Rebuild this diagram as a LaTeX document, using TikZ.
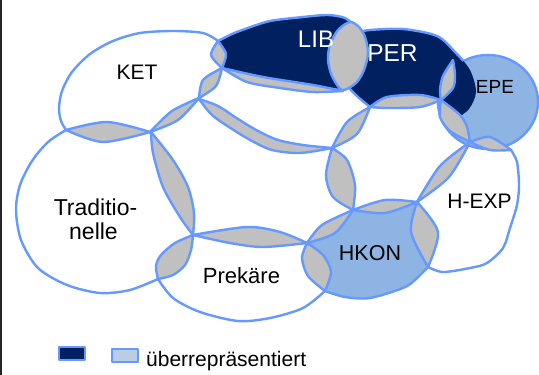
\documentclass[tikz,border=0pt]{standalone}
\usepackage{fontspec}
\newfontfamily\lab{Liberation Sans}
\definecolor{bl}{RGB}{102,153,255}
\definecolor{navy}{RGB}{0,32,96}
\definecolor{lfill}{RGB}{142,180,227}
\definecolor{lgray}{RGB}{192,192,192}
\definecolor{leglight}{RGB}{185,205,229}
\begin{document}
\begin{tikzpicture}[x=1pt,y=-1pt, line join=round,
  bigw/.style={fill=white, draw=bl, line width=2.4pt},
  bigl/.style={fill=lfill, draw=bl, line width=2.4pt},
  bign/.style={fill=navy, draw=bl, line width=2.4pt},
  lensst/.style={fill=lgray, draw=bl, line width=2.4pt},
  lab/.style={inner sep=0pt, anchor=base, text=black},
  legbox/.style={draw=bl, line width=2pt, inner sep=0pt, minimum width=26pt, minimum height=13pt},
]
\useasboundingbox (0,0) rectangle (539,375);
\fill[white] (0,0) rectangle (539,375);
\draw[line width=1.6pt, black!85] (0.8,0) -- (0.8,375);

% Traditionelle
\filldraw[bigw] plot[smooth] coordinates {(66,130) (107,131) (150,132)}
 -- plot[smooth] coordinates {(150,132) (161,155) (175,187) (187,215) (193,235)}
 -- plot[smooth] coordinates {(193,235) (172,258) (158,279)}
 -- plot[smooth] coordinates {(158,279) (130,290) (100,293) (67,285) (38,268) (21,240) (16,210) (20,185) (32,161) (48,142) (66,130)} -- cycle;
% KET
\filldraw[bigw] plot[smooth] coordinates {(66,130) (61,121) (59,108) (62,91) (72,72) (90,54) (113,41) (140,33) (173,31) (203,33) (218,41)}
 -- plot[smooth] coordinates {(218,41) (218.5,55) (222,68)}
 -- plot[smooth] coordinates {(222,68) (209,83) (199,98)}
 -- plot[smooth] coordinates {(199,98) (175,116) (150,132)}
 -- plot[smooth] coordinates {(150,132) (106,132) (66,130)} -- cycle;
% Prekaere
\filldraw[bigw] plot[smooth] coordinates {(193,235) (250,237) (307,243)}
 -- plot[smooth] coordinates {(307,243) (316,265) (325,291)}
 -- plot[smooth] coordinates {(325,291) (303,308) (270,318) (238,321) (200,312) (173,298) (158,279)}
 -- plot[smooth] coordinates {(158,279) (172,258) (193,235)} -- cycle;
% H-EXP
\filldraw[bigw] plot[smooth] coordinates {(417,202) (444,171) (470,142)}
 -- plot[smooth] coordinates {(470,142) (490,143.5) (511,150)}
 -- plot[smooth] coordinates {(511,150) (517,162) (519,185) (517,205) (510,228) (503,248) (487,263) (470,268) (443,272) (428,267)}
 -- plot[smooth] coordinates {(428,267) (425,232) (417,202)} -- cycle;
% HKON
\filldraw[bigl] plot[smooth] coordinates {(307,243) (329,229) (353,210)}
 -- plot[smooth] coordinates {(353,210) (385,207) (417,202)}
 -- plot[smooth] coordinates {(417,202) (425,232) (428,267)}
 -- plot[smooth] coordinates {(428,267) (415,280) (403,288) (370,298) (345,297) (325,291)}
 -- plot[smooth] coordinates {(325,291) (316,265) (307,243)} -- cycle;
% EPE
\filldraw[bigl] (488,102) ellipse [x radius=50pt, y radius=47pt];
% LIB
\filldraw[bign] plot[smooth] coordinates {(218,41) (232,34) (245,29) (270,21) (303,17) (328,15) (345,18) (355,26)}
 -- plot[smooth] coordinates {(355,26) (357,55) (343,90)}
 -- plot[smooth] coordinates {(343,90) (313,88.5) (280,84) (247,77) (222,68)}
 -- plot[smooth] coordinates {(222,68) (218.5,55) (218,41)} -- cycle;
% PER fill
\fill[navy] plot[smooth] coordinates {(352,33) (370,30) (403,29) (437,36) (455,52) (470,70) (476,92) (469,109) (456,119)}
 -- plot[smooth] coordinates {(456,119) (447,109) (441,100)}
 -- plot[smooth] coordinates {(441,100) (420,101) (387,102) (370,107)}
 -- plot[smooth] coordinates {(370,107) (358,97) (349,88)}
 -- plot[smooth] coordinates {(349,88) (337,70) (336,45) (352,33)} -- cycle;
% PER outline outside EPE
\begin{scope}[even odd rule]
\clip (-5,-5) rectangle (545,380) (488,102) ellipse [x radius=50pt, y radius=47pt];
\draw[draw=bl, line width=2.4pt] plot[smooth] coordinates {(352,33) (370,30) (403,29) (437,36) (455,52) (470,70) (476,92) (469,109) (456,119)}
 -- plot[smooth] coordinates {(456,119) (447,109) (441,100)}
 -- plot[smooth] coordinates {(441,100) (420,101) (387,102) (370,107)}
 -- plot[smooth] coordinates {(370,107) (358,97) (349,88)}
 -- plot[smooth] coordinates {(349,88) (337,70) (336,45) (352,33)} -- cycle;
\end{scope}

% lenses
\filldraw[lensst] plot[smooth] coordinates {(66,130) (107,122) (150,132)} -- plot[smooth] coordinates {(150,132) (103,142) (66,130)} -- cycle;
\filldraw[lensst] plot[smooth] coordinates {(151,132) (153,153) (163,187) (180,217) (193,235)} -- plot[smooth] coordinates {(193,235) (194,213) (188,187) (173,160) (151,132)} -- cycle;
\filldraw[lensst] plot[smooth] coordinates {(150,132) (172,111) (199,98)} -- plot[smooth] coordinates {(199,98) (178,120) (150,132)} -- cycle;
\filldraw[lensst] plot[smooth] coordinates {(199,98) (203,80) (222,68)} -- plot[smooth] coordinates {(222,68) (216,86) (199,98)} -- cycle;
\filldraw[lensst] plot[smooth] coordinates {(218,41) (211,55) (222,68)} -- plot[smooth] coordinates {(222,68) (226,54) (218,41)} -- cycle;
\filldraw[lensst] plot[smooth] coordinates {(222,68) (263,77) (313,85) (343,91)} -- plot[smooth] coordinates {(343,91) (313,92) (280,88) (247,82) (222,68)} -- cycle;
\filldraw[lensst] plot[smooth cycle] coordinates {(350,22) (338,30) (330,45) (328,60) (332,76) (342,90) (356,83) (364,70) (368,53) (365,37) (359,27)};
\filldraw[lensst] plot[smooth] coordinates {(199,99) (218,106) (238,119) (258,131) (278,140) (303,145) (332,148)} -- plot[smooth] coordinates {(332,148) (300,153) (272,150) (252,141) (232,129) (212,115) (199,99)} -- cycle;
\filldraw[lensst] plot[smooth] coordinates {(332,148) (347,122) (370,107)} -- plot[smooth] coordinates {(370,107) (357,134) (332,148)} -- cycle;
\filldraw[lensst] plot[smooth] coordinates {(332,148) (326,175) (333,197) (353,210)} -- plot[smooth] coordinates {(353,210) (355,185) (347,160) (332,148)} -- cycle;
\filldraw[lensst] plot[smooth] coordinates {(307,243) (322,225) (353,210)} -- plot[smooth] coordinates {(353,210) (335,233) (307,243)} -- cycle;
\filldraw[lensst] plot[smooth] coordinates {(353,210) (385,200) (417,202)} -- plot[smooth] coordinates {(417,202) (385,213) (353,210)} -- cycle;
\filldraw[lensst] plot[smooth] coordinates {(417,202) (411,232) (428,267)} -- plot[smooth] coordinates {(428,267) (438,232) (417,202)} -- cycle;
\filldraw[lensst] plot[smooth] coordinates {(470,142) (440,166) (417,202)} -- plot[smooth] coordinates {(417,202) (449,177) (470,142)} -- cycle;
\filldraw[lensst] plot[smooth] coordinates {(193,235) (247,227) (280,232) (307,243)} -- plot[smooth] coordinates {(307,243) (263,247) (230,243) (193,235)} -- cycle;
\filldraw[lensst] plot[smooth] coordinates {(193,235) (175,243) (161,255) (156,266) (158,279)} -- plot[smooth] coordinates {(158,279) (173,275) (185,265) (191,250) (193,235)} -- cycle;
\filldraw[lensst] plot[smooth] coordinates {(307,243) (302,258) (308,276) (325,291)} -- plot[smooth] coordinates {(325,291) (331,272) (323,255) (307,243)} -- cycle;
\filldraw[lensst] plot[smooth] coordinates {(370,107) (387,97) (420,95) (441,100)} -- plot[smooth] coordinates {(441,100) (420,107) (387,108) (370,107)} -- cycle;
\filldraw[lensst] plot[smooth] coordinates {(453,60) (455,75) (453,88) (441,100)} -- plot[smooth] coordinates {(441,100) (440,90) (443,76) (453,60)} -- cycle;
\filldraw[lensst] plot[smooth] coordinates {(441,100) (440,117) (450,131) (470,142)} -- plot[smooth] coordinates {(470,142) (467,127) (460,115) (441,100)} -- cycle;
\filldraw[lensst] plot[smooth] coordinates {(470,142) (490,137) (511,150)} -- plot[smooth] coordinates {(511,150) (490,150) (470,142)} -- cycle;

% labels
\node[lab, font=\lab\fontsize{21}{24}\selectfont] (ket) at (137,79.5) {KET};
\node[lab, text=white, font=\lab\fontsize{24}{24}\selectfont] (lib) at (316,47) {LIB};
\node[lab, text=white, font=\lab\fontsize{24.5}{24}\selectfont] (per) at (392.5,61) {PER};
\node[lab, font=\lab\fontsize{19}{24}\selectfont] (epe) at (495,93) {EPE};
\node[lab, font=\lab\fontsize{21}{24}\selectfont] (hexp) at (479.5,208) {H-EXP};
\node[lab, font=\lab\fontsize{21.5}{24}\selectfont] (hkon) at (370,260) {HKON};
\node[lab, font=\lab\fontsize{22}{24}\selectfont] (prek) at (241.5,283) {Prekäre};
\node[lab, font=\lab\fontsize{23}{24}\selectfont] (trada) at (95.5,215) {Traditio-};
\node[lab, font=\lab\fontsize{23}{24}\selectfont] (tradb) at (93.5,239) {nelle};

% legend
\node[legbox, fill=navy] (legn) at (71.7,353.4) {};
\node[legbox, fill=leglight] (legb) at (125,355.5) {};
\node[lab, anchor=base west, font=\lab\fontsize{21}{24}\selectfont] (legt) at (146,366) {überrepräsentiert};
\end{tikzpicture}
\end{document}
